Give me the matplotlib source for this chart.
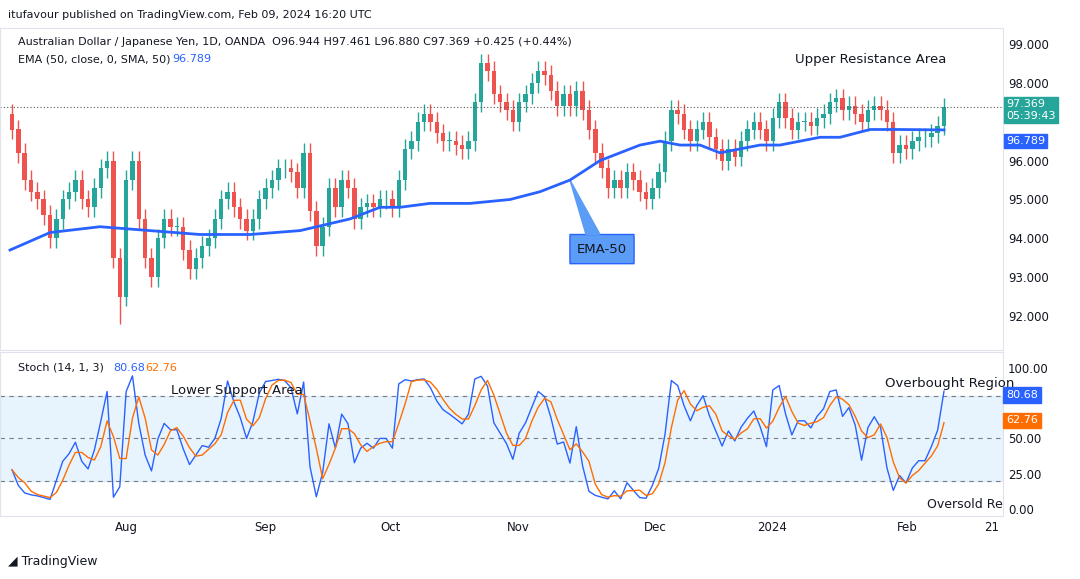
import numpy as np, pandas as pd
import matplotlib
matplotlib.use("Agg")
import matplotlib.pyplot as plt
from matplotlib.patches import FancyBboxPatch

closes = [96.8,96.2,95.5,95.2,95.0,94.6,94.0,94.5,95.0,95.2,95.5,95.0,94.8,95.3,95.8,96.0,93.5,92.5,95.5,96.0,
94.5,93.5,93.0,94.0,94.5,94.3,94.3,93.7,93.2,93.5,93.8,94.0,94.5,95.0,95.2,94.8,94.5,94.2,94.5,95.0,
95.3,95.5,95.8,95.8,95.7,95.3,96.2,94.7,93.8,94.3,95.3,94.8,95.5,95.3,94.5,94.8,94.9,94.8,95.0,95.0,
94.8,95.5,96.3,96.5,97.0,97.2,97.0,96.7,96.5,96.5,96.4,96.3,96.5,97.5,98.5,98.3,97.7,97.5,97.3,97.0,
97.5,97.7,98.0,98.3,98.2,97.8,97.4,97.7,97.4,97.8,97.3,96.8,96.2,95.8,95.3,95.5,95.3,95.7,95.5,95.2,
95.0,95.3,95.7,96.5,97.3,97.2,96.8,96.5,96.8,97.0,96.6,96.3,96.0,96.3,96.1,96.5,96.8,97.0,96.8,96.5,
97.1,97.5,97.1,96.8,97.0,97.0,96.9,97.1,97.2,97.5,97.6,97.3,97.4,97.2,97.0,97.3,97.4,97.3,97.0,96.2,
96.4,96.3,96.5,96.6,96.6,96.7,96.9,97.369]
first_open = 97.2
ema_px = [10,50,100,150,200,250,300,350,380,400,430,470,510,540,570,600,640,660,680,700,720,740,760,780,800,820,840,870,900,944]
ema_vals = [93.7,94.15,94.3,94.2,94.1,94.1,94.2,94.5,94.8,94.8,94.9,94.9,95.0,95.2,95.5,96.0,96.4,96.5,96.4,96.4,96.2,96.3,96.4,96.4,96.5,96.6,96.6,96.8,96.8,96.789]
price_ticks = [92,93,94,95,96,98,99]
tick_labels = ["Aug","Sep","Oct","Nov","Dec","2024","Feb","21"]
tick_px = [126,265,391,518,655,772,907,992]

n = len(closes)
opens = [first_open] + closes[:-1]
highs = [max(o,c)+0.25 for o,c in zip(opens,closes)]
lows = [min(o,c)-0.25 for o,c in zip(opens,closes)]
lows[17] = 91.8
x0, x1 = 12, 944
step = (x1-x0)/(n-1)
xs = np.array([x0+i*step for i in range(n)])

s = pd.Series(closes)
hh = pd.Series(highs).rolling(14, min_periods=1).max()
ll = pd.Series(lows).rolling(14, min_periods=1).min()
k = 100*(s-ll)/(hh-ll)
d = k.rolling(3, min_periods=1).mean()

W,H = 1080,579
fig = plt.figure(figsize=(W/100,H/100), dpi=100)
fig.patch.set_facecolor("white")
ax = fig.add_axes([0, 1-350/H, 1003/W, 322/H])
ax2 = fig.add_axes([0, 1-516/H, 1003/W, 164/H])
green, red = "#26a69a", "#ef5350"
for i in range(n):
    col = green if closes[i] >= opens[i] else red
    ax.vlines(xs[i], lows[i], highs[i], color=col, lw=1)
    ax.bar(xs[i], abs(closes[i]-opens[i]) or 0.02, bottom=min(opens[i],closes[i]), width=step*0.7, color=col)
ax.plot(ema_px, ema_vals, color="#2962ff", lw=2)
ax.set_xlim(0,1003); ax.set_ylim(91.13,99.41)
ax.axhline(closes[-1], color="#555", ls=(0,(1,2)), lw=0.8)
for a in (ax,ax2):
    a.set_xticks(tick_px); a.grid(False)
    a.tick_params(length=0, labelsize=8.5, colors="#131722")
    a.yaxis.tick_right()
    for sp in a.spines.values(): sp.set_color("#e0e3eb")
ax.set_xticklabels([])
ax.set_yticks(price_ticks); ax.set_yticklabels([f"{v:.3f}" for v in price_ticks])
ax2.set_xticklabels(tick_labels)
fig.text(18/W,1-42/H,"Australian Dollar / Japanese Yen, 1D, OANDA  O96.944 H97.461 L96.880 C97.369 +0.425 (+0.44%)",fontsize=8,color="#131722",va="center")
fig.text(18/W,1-59/H,"EMA (50, close, 0, SMA, 50)",fontsize=8,color="#131722",va="center")
fig.text(172/W,1-59/H,"96.789",fontsize=8,color="#2962ff",va="center")
fig.text(8/W,1-15/H,"itufavour published on TradingView.com, Feb 09, 2024 16:20 UTC",fontsize=8,color="#131722",va="center")
fig.text(8/W,1-562/H,"◢ TradingView",fontsize=9,color="#131722",va="center")
fig.text(795/W,1-59/H,"Upper Resistance Area",fontsize=9.5,color="#131722",va="center")
ax.add_patch(FancyBboxPatch((570,93.45),64,0.55,boxstyle="round,pad=0.1,rounding_size=0.2",fc="#5b9cf6",ec="#2962ff"))
ax.fill([570,586,600],[95.5,94.1,94.1],color="#5b9cf6")
ax.text(602,93.72,"EMA-50",ha="center",va="center",fontsize=9.5,color="#131722")
ax.text(1006,97.3,"97.369\n05:39:43",fontsize=8,color="white",va="center",clip_on=False,bbox=dict(fc=green,ec=green,pad=1.5))
ax.text(1006,96.5,"96.789",fontsize=8,color="white",va="center",clip_on=False,bbox=dict(fc="#2962ff",ec="#2962ff",pad=1.5))
# stochastic
ax2.axhspan(20,80,color="#2196f3",alpha=0.1)
for lv in (20,50,80): ax2.axhline(lv,color="#787b86",ls=(0,(4,4)),lw=0.8)
ax2.plot(xs,k,color="#2962ff",lw=1); ax2.plot(xs,d,color="#ff6d00",lw=1)
ax2.set_xlim(0,1003); ax2.set_ylim(-5,111.3)
ax2.set_yticks([0,25,50,100]); ax2.set_yticklabels(["0.00","25.00","50.00","100.00"])
ax2.text(18,100,"Stoch (14, 1, 3)",fontsize=8,color="#131722",va="center")
ax2.text(113,100,"80.68",fontsize=8,color="#2962ff",va="center")
ax2.text(145,100,"62.76",fontsize=8,color="#ff6d00",va="center")
ax2.text(171,84,"Lower Support Area",fontsize=9.5,color="#131722",va="center")
ax2.text(885,89,"Overbought Region",fontsize=9.5,color="#131722",va="center")
ax2.text(927,3,"Oversold Reg",fontsize=9,color="#131722",va="center",clip_on=True)
for yv,lab,bg in [(80.68,"80.68","#2962ff"),(62.76,"62.76","#ff6d00")]:
    ax2.text(1006,yv,lab,fontsize=8,color="white",va="center",clip_on=False,bbox=dict(fc=bg,ec=bg,pad=2))
fig.savefig("out.png",dpi=100)
